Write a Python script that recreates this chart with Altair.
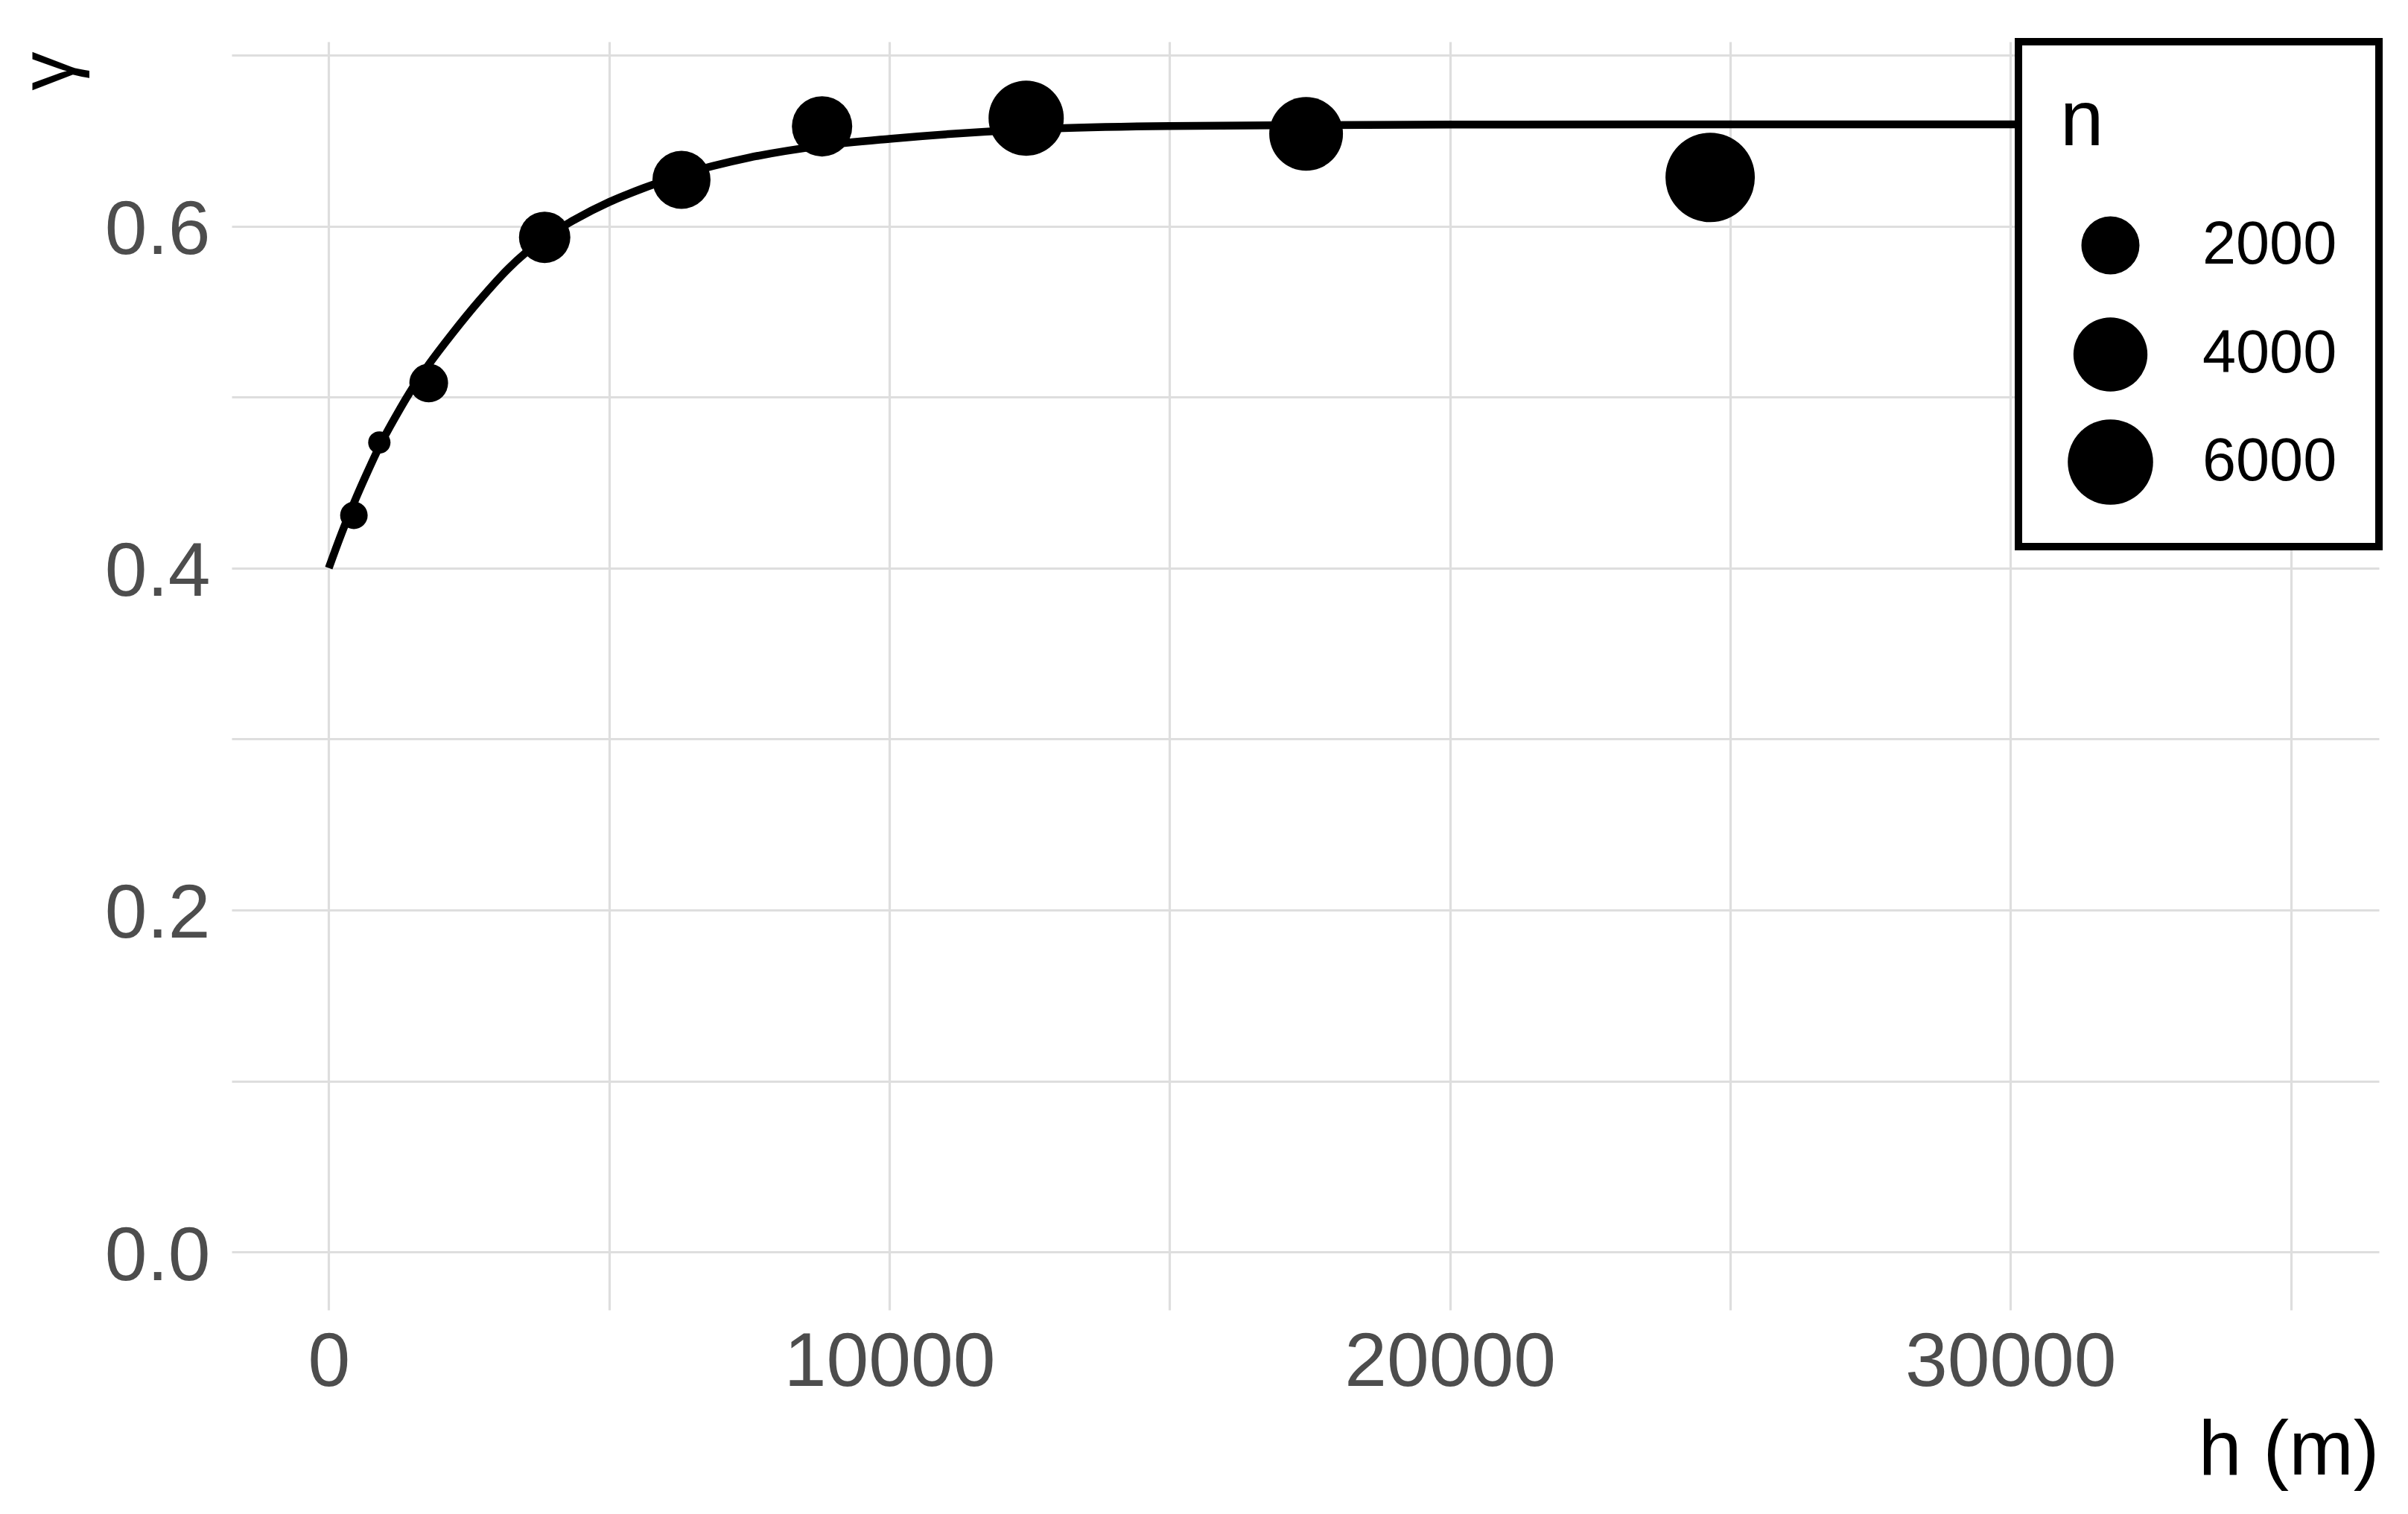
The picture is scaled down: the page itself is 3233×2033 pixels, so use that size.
import altair as alt
import pandas as pd

# empirical variogram bins
h_bin = [448, 902, 1783, 3851, 6292, 8800, 12441, 17435, 24643]
gamma_bin = [0.4308, 0.4734, 0.5082, 0.5934, 0.6270, 0.6583, 0.6631, 0.6539, 0.6284]
n_pairs = [237, 130, 628, 1409, 2000, 2228, 4186, 3952, 6848]

# fitted model curve
curve_h = [0, 225, 448, 675, 902, 1200, 1490, 1783, 2200, 2700, 3200, 3851, 4400,
           5000, 5600, 6300, 7500, 8800, 10000, 12500, 15000, 17500, 20000, 25000,
           30000, 34840]
curve_gamma = [0.400, 0.420, 0.438, 0.455, 0.471, 0.489, 0.505, 0.519, 0.537, 0.557,
               0.575, 0.593, 0.604, 0.614, 0.622, 0.630, 0.640, 0.647, 0.651, 0.6565,
               0.6585, 0.659, 0.6593, 0.6595, 0.6595, 0.6595]

x_grid = [0, 5000, 10000, 15000, 20000, 25000, 30000, 35000]
x_labels = [0, 10000, 20000, 30000]
y_grid = [0.0, 0.1, 0.2, 0.3, 0.4, 0.5, 0.6, 0.7]
legend_values = [2000, 4000, 6000]

pts = pd.DataFrame({"h": h_bin, "gamma": gamma_bin, "n": n_pairs})
crv = pd.DataFrame({"h": curve_h, "gamma": curve_gamma})

FONT = "Liberation Sans"
W, H = 2883, 1703

xscale = alt.Scale(domain=[-1733, 36574], nice=False, zero=False)
yscale = alt.Scale(domain=[-0.0339, 0.7078], nice=False, zero=False)

x_lab_expr = "indexof(%s, datum.value) >= 0 ? format(datum.value, 'd') : ''" % str(x_labels)
y_lab_expr = "round(datum.value * 10) % 2 == 0 ? format(datum.value, '.1f') : ''"

xaxis = alt.Axis(
    values=x_grid, labelExpr=x_lab_expr, title="h (m)",
    ticks=False, tickSize=0, domain=False, labelPadding=20, labelLimit=0,
    labelFontSize=102, labelColor="#4D4D4D", labelFont=FONT,
    labelOverlap=False, labelFlush=False,
    titleFontSize=104, titleFont=FONT, titleColor="black", titleFontWeight="normal",
    titleAnchor="end", titleAlign="right", titleBaseline="alphabetic",
    titleX=W, titleY=220, titleLimit=0,
    gridColor="#DEDEDE", gridWidth=3.2,
)
yaxis = alt.Axis(
    values=y_grid, labelExpr=y_lab_expr, title="γ",
    ticks=False, tickSize=0, domain=False, labelPadding=29, labelOffset=6, labelLimit=0,
    labelFontSize=102, labelColor="#4D4D4D", labelFont=FONT,
    labelOverlap=False, labelFlush=False,
    titleFontSize=104, titleFont=FONT, titleColor="black", titleFontWeight="normal",
    titleAngle=270, titleAnchor="end", titleAlign="right", titleBaseline="alphabetic",
    titleX=-214, titleY=13, titleLimit=0,
    gridColor="#DEDEDE", gridWidth=3.2,
)

line = alt.Chart(crv).mark_line(color="black", strokeWidth=10.5, interpolate="monotone").encode(
    x=alt.X("h:Q", scale=xscale, axis=xaxis),
    y=alt.Y("gamma:Q", scale=yscale, axis=yaxis),
)

points = alt.Chart(pts).mark_circle(color="black", opacity=1).encode(
    x=alt.X("h:Q", scale=xscale),
    y=alt.Y("gamma:Q", scale=yscale),
    size=alt.Size(
        "n:Q",
        scale=alt.Scale(type="pow", exponent=0.7, domain=[0, 6850], range=[0, 14400]),
        legend=alt.Legend(
            title="n", values=legend_values, format="d", orient="top-right", offset=0,
            padding=56, titlePadding=72, rowPadding=22, gridAlign="all",
            labelOffset=66, symbolOffset=10, labelLimit=0,
        ),
    ),
)

chart = alt.layer(line, points).properties(
    width=W, height=H,
    autosize=alt.AutoSizeParams(type="none"),
    padding={"left": 303, "top": 48, "right": 31, "bottom": 266},
    background="white",
).configure_view(stroke=None).configure_legend(
    strokeColor="black", strokeWidth=10, fillColor="white",
    titleFontSize=105, titleFont=FONT, titleColor="black", titleFontWeight="normal",
    labelFontSize=81, labelFont=FONT, labelColor="black",
    symbolFillColor="black", symbolStrokeWidth=0, symbolOpacity=1, symbolType="circle",
)

chart.save("out.html", embed_options={"renderer": "svg", "actions": False})
